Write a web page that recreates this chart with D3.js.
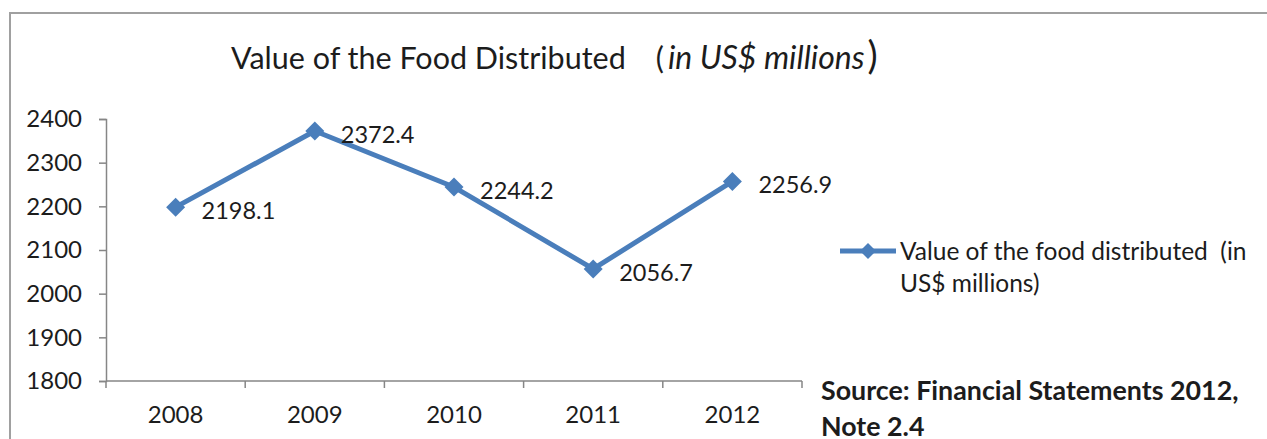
<!DOCTYPE html>
<html>
<head>
<meta charset="utf-8">
<script src="https://cdn.jsdelivr.net/npm/d3@7"></script>
<style>
  body { margin: 0; background: #fff; }
  svg { display: block; font-family: Lato, "Noto Sans", sans-serif; }
</style>
</head>
<body>
<div id="chart"></div>
<script>
// chart data
const years = ['2008', '2009', '2010', '2011', '2012'];
const values = [2198.1, 2372.4, 2244.2, 2056.7, 2256.9];
const yTicks = [1800, 1900, 2000, 2100, 2200, 2300, 2400];
const seriesName = ['Value of the food distributed\u00a0\u00a0(in', 'US$ millions)'];
const sourceLines = ['Source: Financial Statements 2012,', 'Note 2.4'];

const width = 1267, height = 439;
const margin = { top: 119, right: 465, bottom: 58, left: 106 };
const lineColor = '#4a7ebb';
const axisColor = '#868686';
const textColor = '#1c1c1c';

const svg = d3.select('#chart')
  .append('svg')
  .attr('width', width)
  .attr('height', height);

// outer chart frame
svg.append('rect')
  .attr('x', 10).attr('y', 13)
  .attr('width', width + 10).attr('height', height + 10)
  .attr('fill', 'none')
  .attr('stroke', '#a0a0a0')
  .attr('stroke-width', 2);

const innerWidth = width - margin.left - margin.right;
const innerHeight = height - margin.top - margin.bottom;

const g = svg.append('g')
  .attr('transform', `translate(${margin.left}, ${margin.top})`);

const x = d3.scaleBand().domain(years).range([0, innerWidth]);
const y = d3.scaleLinear().domain([1800, 2400]).range([innerHeight, 0]);

// title
const title = svg.append('text')
  .attr('x', 231).attr('y', 69)
  .attr('fill', textColor)
  .attr('font-size', 30.5);
title.append('tspan').text('Value of the Food Distributed');
title.append('tspan').attr('dx', 30).text('(');
title.append('tspan').attr('dx', 4).attr('font-size', 32).attr('font-style', 'italic').text('in US$ millions');
title.append('tspan').attr('dx', 3).attr('font-size', 38).text(')');

// y axis
const yAxis = g.append('g')
  .call(d3.axisLeft(y).tickValues(yTicks).tickFormat(d3.format('d')).tickSize(7).tickPadding(17));
yAxis.select('.domain').attr('stroke', axisColor).attr('stroke-width', 1.5);
yAxis.selectAll('.tick line').attr('stroke', axisColor).attr('stroke-width', 1.5);
yAxis.selectAll('text')
  .attr('font-size', 24)
  .attr('font-family', 'Lato, sans-serif')
  .attr('fill', textColor);

// x axis with ticks at band edges
const xAxis = g.append('g')
  .attr('transform', `translate(0, ${innerHeight})`);
xAxis.append('line')
  .attr('x1', 0).attr('x2', innerWidth)
  .attr('stroke', axisColor).attr('stroke-width', 1.5);
const edges = years.map(d => x(d)).concat([x.range()[1]]);
xAxis.selectAll('line.edge')
  .data(edges)
  .join('line')
  .attr('class', 'edge')
  .attr('x1', d => d).attr('x2', d => d)
  .attr('y1', 0).attr('y2', 7)
  .attr('stroke', axisColor).attr('stroke-width', 1.5);
xAxis.selectAll('text.year')
  .data(years)
  .join('text')
  .attr('class', 'year')
  .attr('x', d => x(d) + x.bandwidth() / 2)
  .attr('y', 42)
  .attr('text-anchor', 'middle')
  .attr('font-size', 24)
  .attr('fill', textColor)
  .text(d => d);

// series line
const pts = years.map((d, i) => ({ year: d, value: values[i] }));
const line = d3.line()
  .x(d => x(d.year) + x.bandwidth() / 2)
  .y(d => y(d.value));

g.append('path')
  .datum(pts)
  .attr('d', line)
  .attr('fill', 'none')
  .attr('stroke', lineColor)
  .attr('stroke-width', 5)
  .attr('stroke-linejoin', 'round');

const diamond = r => `M0,${-r}L${r},0L0,${r}L${-r},0Z`;

g.selectAll('path.marker')
  .data(pts)
  .join('path')
  .attr('class', 'marker')
  .attr('transform', d => `translate(${x(d.year) + x.bandwidth() / 2}, ${y(d.value)})`)
  .attr('d', diamond(9.5))
  .attr('fill', lineColor);

// data labels
g.selectAll('text.label')
  .data(pts)
  .join('text')
  .attr('class', 'label')
  .attr('x', d => x(d.year) + x.bandwidth() / 2 + 26)
  .attr('y', d => y(d.value) + 12)
  .attr('font-size', 23.5)
  .attr('fill', textColor)
  .text(d => d.value.toFixed(1));

// legend
const legend = svg.append('g').attr('transform', 'translate(840, 251)');
legend.append('line')
  .attr('x1', 0).attr('x2', 56)
  .attr('stroke', lineColor).attr('stroke-width', 5);
legend.append('path')
  .attr('transform', 'translate(28, 0)')
  .attr('d', diamond(8))
  .attr('fill', lineColor);
legend.selectAll('text')
  .data(seriesName)
  .join('text')
  .attr('x', 60)
  .attr('y', (d, i) => 9 + i * 32)
  .attr('font-size', 24.5)
  .attr('fill', textColor)
  .text(d => d);

// source note
svg.selectAll('text.source')
  .data(sourceLines)
  .join('text')
  .attr('class', 'source')
  .attr('x', 821)
  .attr('y', (d, i) => 400 + i * 36)
  .attr('font-size', 26.8)
  .attr('font-weight', 'bold')
  .attr('fill', textColor)
  .text(d => d);
</script>
</body>
</html>
